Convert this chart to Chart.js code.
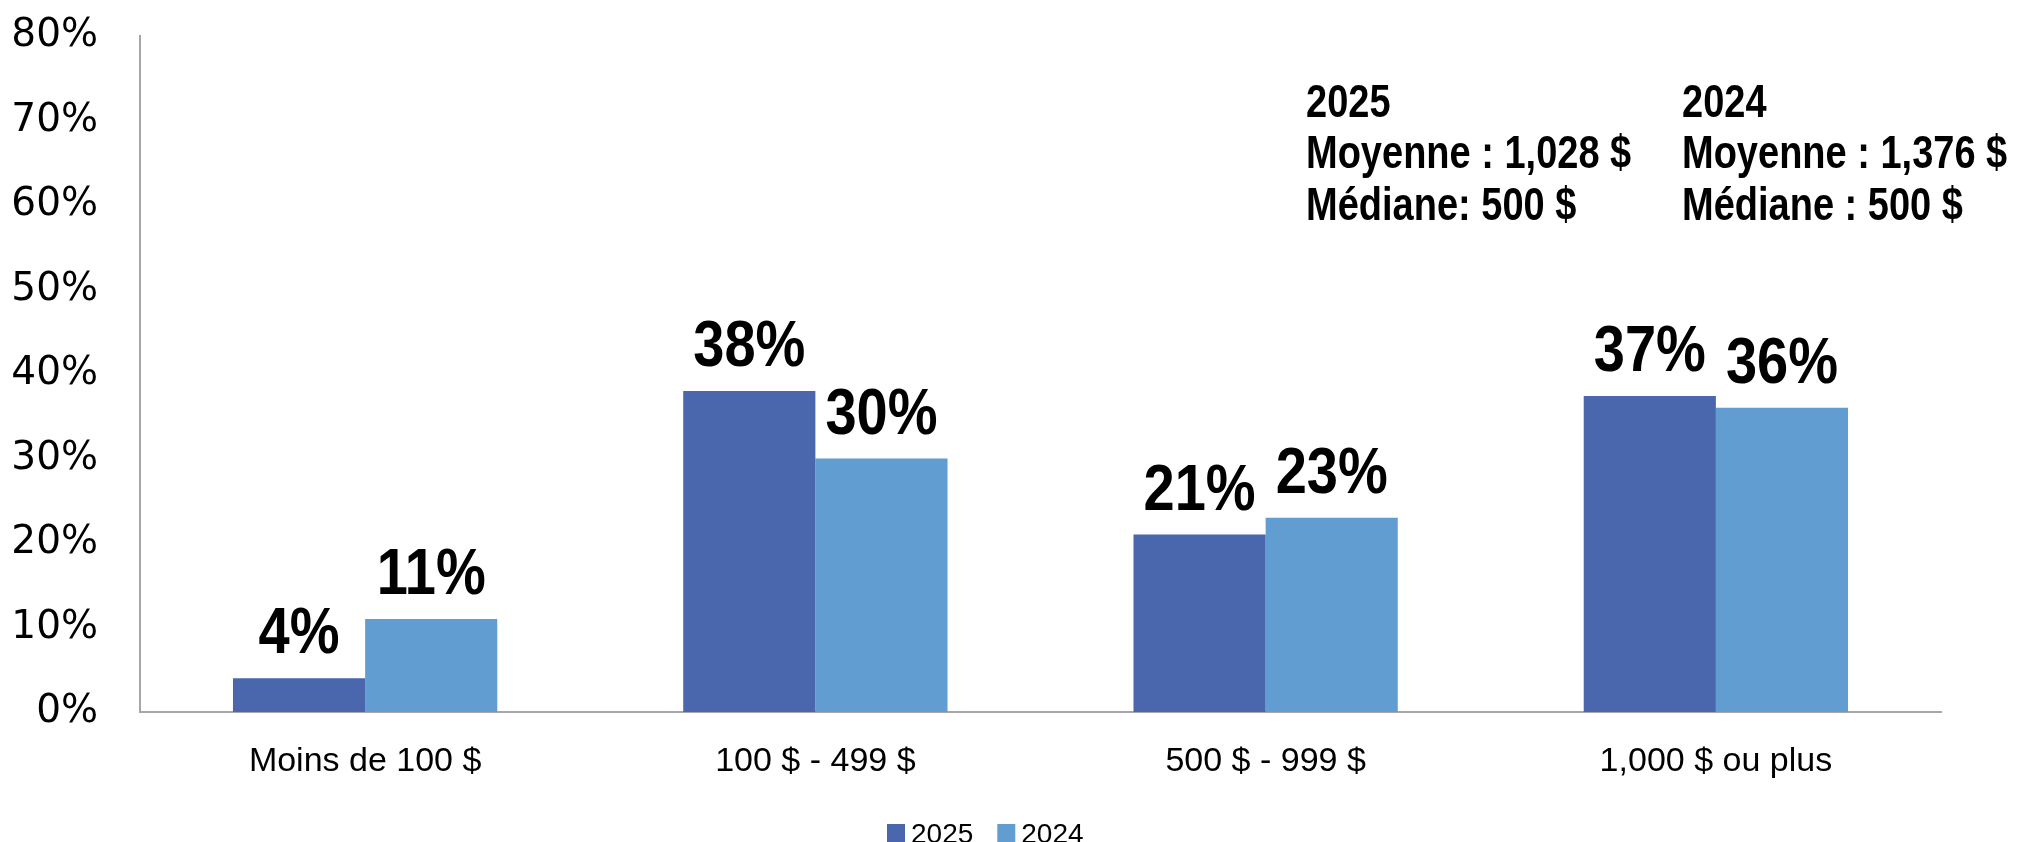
<!DOCTYPE html>
<html>
<head>
<meta charset="utf-8">
<script src="https://cdn.jsdelivr.net/npm/chart.js@4"></script>
<style>
html,body{margin:0;padding:0;background:#fff;overflow:hidden;width:2018px;height:842px;}
#wrap{position:relative;width:2018px;height:842px;}
</style>
</head>
<body>
<div id="wrap"><canvas id="c"></canvas></div>
<script>
const categories = ["Moins de 100 $", "100 $ - 499 $", "500 $ - 999 $", "1,000 $ ou plus"];
const seriesNames = ["2025", "2024"];
const values2025 = [4, 38, 21, 37.4];
const values2024 = [11, 30, 23, 36];
const yTicks = [0, 10, 20, 30, 40, 50, 60, 70, 80];
const notes2025 = ["2025", "Moyenne : 1,028 $", "Médiane: 500 $"];
const notes2024 = ["2024", "Moyenne : 1,376 $", "Médiane : 500 $"];

const colors = ["#4a66ac", "#629dd1"];

function stretchedText(ctx, text, x, y, sy) {
  ctx.save();
  ctx.translate(x, y);
  ctx.scale(1, sy);
  ctx.fillText(text, 0, 0);
  ctx.restore();
}

const labelPlugin = {
  id: "valueLabels",
  afterDatasetsDraw(chart) {
    const ctx = chart.ctx;
    ctx.save();
    ctx.fillStyle = "#000";
    ctx.font = "bold 56px 'Liberation Sans', Arial, sans-serif";
    ctx.textAlign = "center";
    ctx.textBaseline = "alphabetic";
    chart.data.datasets.forEach((ds, di) => {
      const meta = chart.getDatasetMeta(di);
      meta.data.forEach((bar, i) => {
        stretchedText(ctx, Math.round(ds.data[i]) + "%", bar.x, bar.y - 25, 1.15);
      });
    });
    ctx.restore();
  }
};

const notesPlugin = {
  id: "notes",
  afterDraw(chart) {
    const ctx = chart.ctx;
    ctx.save();
    ctx.fillStyle = "#000";
    ctx.font = "bold 38px 'Liberation Sans', Arial, sans-serif";
    ctx.textAlign = "left";
    ctx.textBaseline = "middle";
    const ys = [104, 155, 207];
    notes2025.forEach((t, i) => stretchedText(ctx, t, 1306, ys[i], 1.2));
    notes2024.forEach((t, i) => stretchedText(ctx, t, 1682, ys[i], 1.2));
    ctx.restore();
  }
};

const legendPlugin = {
  id: "customLegend",
  afterDraw(chart) {
    const ctx = chart.ctx;
    ctx.save();
    ctx.font = "28px 'Liberation Sans', Arial, sans-serif";
    ctx.textAlign = "left";
    ctx.textBaseline = "middle";
    let x = 887;
    chart.data.datasets.forEach((ds, i) => {
      ctx.fillStyle = ds.backgroundColor;
      ctx.fillRect(x, 824, 18, 19);
      ctx.fillStyle = "#000";
      ctx.fillText(ds.label, x + 24, 835);
      x += 24 + ctx.measureText(ds.label).width + 24;
    });
    ctx.restore();
  }
};

new Chart(document.getElementById("c"), {
  type: "bar",
  data: {
    labels: categories,
    datasets: [
      { label: seriesNames[0], data: values2025, backgroundColor: colors[0], borderWidth: 0 },
      { label: seriesNames[1], data: values2024, backgroundColor: colors[1], borderWidth: 0 }
    ]
  },
  options: {
    responsive: true,
    maintainAspectRatio: false,
    animation: false,
    layout: { padding: { top: 36, right: 77, bottom: 0, left: 0 } },
    plugins: {
      tooltip: { enabled: false },
      legend: { display: false }
    },
    datasets: { bar: { categoryPercentage: 0.587, barPercentage: 1.0 } },
    scales: {
      x: {
        grid: { display: false, drawTicks: false },
        border: { display: true, color: "#a6a6a6", width: 2 },
        ticks: {
          color: "#000",
          font: { family: "'Liberation Sans', Arial, sans-serif", size: 34 },
          padding: 29,
          maxRotation: 0
        },
        afterFit(scale) { scale.height = 130; scale.paddingLeft = 0; scale.paddingRight = 0; }
      },
      y: {
        min: 0,
        max: 80,
        afterBuildTicks(scale) { scale.ticks = yTicks.map(v => ({ value: v })); },
        grid: { display: false, drawTicks: false },
        border: { display: true, color: "#a6a6a6", width: 2 },
        ticks: {
          color: "#000",
          font: { family: "'DejaVu Sans', Verdana, sans-serif", size: 39 },
          padding: 42,
          callback: v => v + "%"
        },
        afterFit(scale) { scale.width = 140; scale.paddingTop = 0; scale.paddingBottom = 0; }
      }
    }
  },
  plugins: [labelPlugin, notesPlugin, legendPlugin]
});
</script>
</body>
</html>
